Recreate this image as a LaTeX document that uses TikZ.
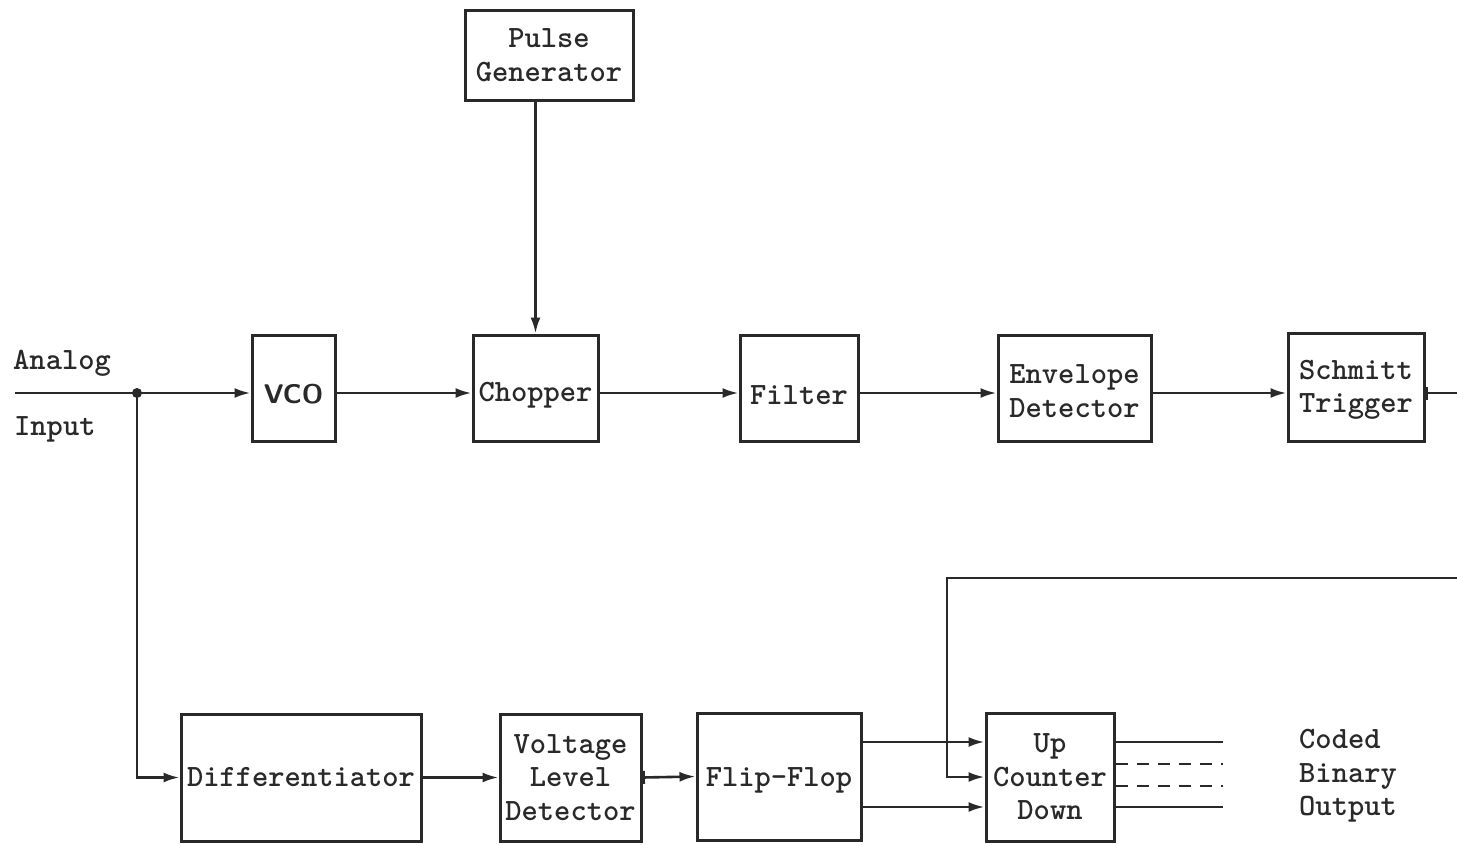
\documentclass[tikz,border=0pt]{standalone}
\usetikzlibrary{arrows.meta}
\definecolor{ink}{rgb}{0.16,0.16,0.16}
\newcommand{\lowr}[2]{\raisebox{-#1}[\height][\depth]{#2}}
\begin{document}
\begin{tikzpicture}[x=1pt,y=-1pt,
  tt/.style={font=\fontsize{31}{33.5}\selectfont\ttfamily\bfseries},
  blk/.style={draw=ink, line width=3pt, align=center, inner sep=0pt, tt, text=ink},
  wire/.style={draw=ink, line width=2.6pt},
  tip/.tip={Latex[length=16pt,width=10pt]},
  arr/.style={wire, -tip},
  bararr/.style={wire, {Bar[width=13pt,line width=2.4pt]}-tip},
  barline/.style={wire, {Bar[width=13pt,line width=2.4pt]}-},
  lbl/.style={tt, text=ink, inner sep=0pt, align=left}
]
\useasboundingbox (0,0) rectangle (1457,844);

% blocks
\node[blk, minimum width=168pt, minimum height=90pt] (pg) at (549,55) {Pulse\\Generator};
\node[blk, minimum width=83pt, minimum height=106pt, font=\fontsize{27}{30}\selectfont\sffamily\bfseries] (vco) at (293.5,388) {\lowr{6pt}{VCO}};
\node[blk, minimum width=125pt, minimum height=106pt] (chop) at (535.5,388) {\lowr{7pt}{Chopper}};
\node[blk, minimum width=118pt, minimum height=106pt] (filt) at (799,388) {\lowr{7pt}{Filter}};
\node[blk, minimum width=153pt, minimum height=106pt] (env) at (1074.5,388) {\lowr{3pt}{Envelope}\\\lowr{3pt}{Detector}};
\node[blk, minimum width=136pt, minimum height=108pt] (schm) at (1356,387) {\lowr{3pt}{Schmitt}\\\lowr{3pt}{Trigger}};
\node[blk, minimum width=240pt, minimum height=127pt] (diff) at (301,777.5) {Differentiator};
\node[blk, minimum width=141pt, minimum height=127pt] (vld) at (570.5,777.5) {Voltage\\Level\\Detector};
\node[blk, minimum width=164pt, minimum height=127pt] (ff) at (779,776.5) {\lowr{4pt}{Flip-Flop}};
\node[blk, minimum width=128pt, minimum height=128pt] (cnt) at (1050,777) {Up\\Counter\\Down};

% labels
\node[lbl, anchor=west] (lana) at (13,363) {Analog};
\node[lbl, anchor=west] (linp) at (14,429) {Input};
\node[lbl, anchor=west] (lout) at (1299,776) {Coded\\Binary\\Output};

% helper coordinates
\coordinate (in) at (15,393);
\coordinate (j) at (137,393);
\coordinate (se) at (1460,393);
\coordinate (le) at (1460,578);
\coordinate (lc) at (947,578);
\coordinate (u) at (0,742);
\coordinate (d) at (0,807);
\coordinate (m1) at (0,764);
\coordinate (m2) at (0,786);
\coordinate (ou) at (1223,742);
\coordinate (od) at (1223,807);
\coordinate (o1) at (1223,764);
\coordinate (o2) at (1223,786);

% top row
\draw[wire] (in) -- (j);
\draw[arr] (j) -- (vco.west |- j);
\fill[ink] (j) circle (5pt);
\draw[arr] (vco.east |- j) -- (chop.west |- j);
\draw[arr] (pg.south -| chop.north) -- (chop.north);
\draw[arr] (chop.east |- j) -- (filt.west |- j);
\draw[arr] (filt.east |- j) -- (env.west |- j);
\draw[arr] (env.east |- j) -- (schm.west |- j);
\draw[barline] (schm.east |- j) -- (se);

% feedback loop to counter
\draw[arr] (le) -- (lc) |- (cnt.west);

% bottom row
\draw[arr] (j) |- (diff.west);
\draw[arr] (diff.east) -- (vld.west);
\draw[bararr] (vld.east) -- (ff.west);
\draw[arr] (ff.east |- u) -- (cnt.west |- u);
\draw[arr] (ff.east |- d) -- (cnt.west |- d);

% counter outputs
\draw[wire] (cnt.east |- u) -- (ou);
\draw[wire, dash pattern=on 12pt off 9pt] (cnt.east |- m1) -- (o1);
\draw[wire, dash pattern=on 12pt off 9pt] (cnt.east |- m2) -- (o2);
\draw[wire] (cnt.east |- d) -- (od);
\end{tikzpicture}
\end{document}
